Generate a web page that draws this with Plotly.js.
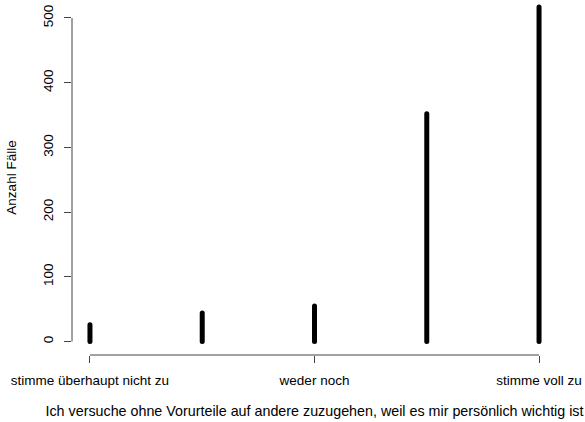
<!DOCTYPE html>
<html>
<head>
<meta charset="utf-8">
<script src="https://cdn.plot.ly/plotly-3.0.1.min.js"></script>
<style>html,body{margin:0;padding:0;background:#fff;}#chart{width:585px;height:422px;}
#chart .scatterlayer path.js-line{stroke-linecap:round;}</style>
</head>
<body>
<div id="chart"></div>
<script>
const categories = ["stimme überhaupt nicht zu", "stimme eher nicht zu", "weder noch", "stimme eher zu", "stimme voll zu"];
const counts = [26, 44, 55, 352, 517];
const labeledTicks = [1, 3, 5];
const yTicks = [0, 100, 200, 300, 400, 500];

const xs = [], ys = [];
categories.forEach((c, i) => {
  xs.push(i + 1, i + 1, null);
  ys.push(0, counts[i], null);
});

const fam = "Liberation Sans, Arial, sans-serif";
const tickFont = {family: fam, size: 13.5, color: "#000"};
const titleFont = {family: fam, size: 14.3, color: "#000"};

const trace = {
  x: xs, y: ys, type: "scatter", mode: "lines",
  line: {color: "#000", width: 5},
  hoverinfo: "skip", connectgaps: false
};

const layout = {
  width: 585, height: 422,
  margin: {l: 72, r: 28, t: 0, b: 66.5},
  paper_bgcolor: "#fff", plot_bgcolor: "#fff",
  showlegend: false,
  font: tickFont,
  xaxis: {
    range: [0.84, 5.16],
    tickvals: labeledTicks,
    ticktext: labeledTicks.map(v => categories[v - 1]),
    ticks: "outside", ticklen: 7, tickcolor: "#444", tickwidth: 1,
    showgrid: false, zeroline: false, showline: false,
    ticklabelstandoff: 6,
    tickfont: tickFont,
    title: {text: "Ich versuche ohne Vorurteile auf andere zuzugehen, weil es mir persönlich wichtig ist", font: titleFont, standoff: 18}
  },
  yaxis: {
    range: [-20.8, 527.8],
    tickvals: yTicks,
    ticks: "outside", ticklen: 7, tickcolor: "#444", tickwidth: 1,
    tickangle: -90,
    showgrid: false, zeroline: false, showline: false,
    ticklabelstandoff: 6,
    tickfont: tickFont,
    title: {text: "Anzahl Fälle", font: tickFont, standoff: 20}
  },
  shapes: [
    {type: "line", xref: "x", yref: "paper", x0: 1, x1: 5, y0: 0, y1: 0, line: {color: "#444", width: 1}},
    {type: "line", xref: "paper", yref: "y", x0: 0, x1: 0, y0: yTicks[0], y1: yTicks[yTicks.length - 1], line: {color: "#444", width: 1}}
  ]
};

Plotly.newPlot("chart", [trace], layout, {displayModeBar: false, staticPlot: true});
</script>
</body>
</html>
